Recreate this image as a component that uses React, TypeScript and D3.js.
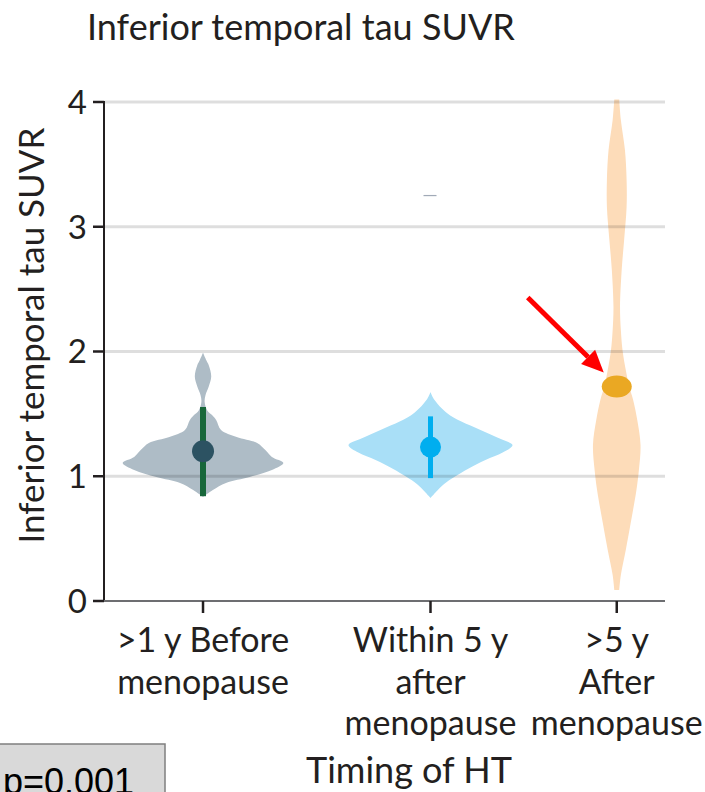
import React from "react";
import * as d3 from "d3";

// Groups (timing of hormone therapy)
const categories = ["before", "within5", "after5"];
const categoryLabels = [
  [">1 y Before", "menopause"],
  ["Within 5 y", "after", "menopause"],
  [">5 y", "After", "menopause"],
];

// Mean and 95% interval of inferior temporal tau SUVR per group
const means = [1.2, 1.234, 1.72];
const ciLow = [0.84, 0.985, null];
const ciHigh = [1.555, 1.48, null];

// Kernel density profiles: [SUVR value, relative density]
const densityBefore: [number, number][] = [
  [1.99, 0], [1.93, 0.04], [1.89, 0.07], [1.8, 0.1], [1.72, 0.07], [1.65, 0.03],
  [1.595, 0.02], [1.53, 0.05], [1.49, 0.11], [1.451, 0.16], [1.371, 0.22],
  [1.315, 0.41], [1.267, 0.66], [1.21, 0.76], [1.154, 0.84], [1.106, 0.98],
  [1.05, 0.84], [0.994, 0.57], [0.946, 0.28], [0.89, 0.12], [0.834, 0],
];
const densityWithin5: [number, number][] = [
  [1.675, 0], [1.62, 0.04], [1.507, 0.2], [1.44, 0.37], [1.371, 0.61],
  [1.3, 0.85], [1.25, 1.0], [1.19, 0.88], [1.13, 0.67], [1.06, 0.46],
  [0.994, 0.29], [0.94, 0.17], [0.89, 0.09], [0.826, 0],
];
const densityAfter5: [number, number][] = [
  [4.02, 0.03], [3.856, 0.05], [3.615, 0.1], [3.375, 0.12], [3.158, 0.12],
  [2.894, 0.09], [2.653, 0.06], [2.357, 0.04], [2.172, 0.05], [2.012, 0.07],
  [1.852, 0.11], [1.723, 0.15], [1.611, 0.2], [1.451, 0.25], [1.25, 0.29],
  [1.05, 0.27], [0.89, 0.24], [0.625, 0.17], [0.409, 0.11], [0.208, 0.05],
  [0.088, 0.03],
];
const densities = [densityBefore, densityWithin5, densityAfter5];
// Stray observation drawn as a short dash
const strayValue = 3.25;

const yTicks = [0, 1, 2, 3, 4];
const pValueText = "p=0.001";

const violinFill = ["#aebcc6", "#a9dff7", "#fddcb9"];
const barColor = ["#17673a", "#00aeef", "#eaa823"];
const dotColor = ["#2c5262", "#00aeef", "#eaa823"];

const W = 705;
const H = 792;
const left = 104;
const right = 665;
const top = 102;
const bottom = 601;
const ink = "#231f20";
const font = "Lato, 'Open Sans', sans-serif";

export default function App() {
  const y = d3.scaleLinear().domain([0, 4]).range([bottom, top]);
  const plotW = right - left;
  const x = d3
    .scaleOrdinal<string, number>()
    .domain(categories)
    .range([left + plotW * 0.1765, left + plotW * 0.582, left + plotW * 0.914]);
  const w = d3.scaleLinear().domain([0, 1]).range([0, 82]);

  const violin = (cx: number) =>
    d3
      .area<[number, number]>()
      .y((d) => y(d[0]))
      .x0((d) => cx - w(d[1]))
      .x1((d) => cx + w(d[1]))
      .curve(d3.curveCatmullRom.alpha(0.5));

  const c3 = x(categories[2]);
  const arrowTip = { x: c3 - 13, y: y(means[2]) - 14 };
  const arrowStart = { x: arrowTip.x - 76, y: arrowTip.y - 75 };
  const ang = Math.atan2(arrowTip.y - arrowStart.y, arrowTip.x - arrowStart.x);
  const headLen = 22;
  const headHalf = 10;
  const bx = arrowTip.x - headLen * Math.cos(ang);
  const by = arrowTip.y - headLen * Math.sin(ang);
  const px = -Math.sin(ang);
  const py = Math.cos(ang);

  return (
    <svg
      width={W}
      height={H}
      style={{ position: "absolute", left: 0, top: 0, background: "#fff" }}
    >
      <rect width={W} height={H} fill="#fff" />
      {/* Title */}
      <text x={87} y={40} fontFamily={font} fontSize={36} fill={ink}>
        Inferior temporal tau SUVR
      </text>

      {/* Violins */}
      {categories.map((c, i) => (
        <path key={c} d={violin(x(c))(densities[i]) || ""} fill={violinFill[i]} />
      ))}

      {/* Gridlines (translucent so they show through violins) */}
      {yTicks.slice(1).map((t) => (
        <line
          key={t}
          x1={left}
          x2={right}
          y1={y(t)}
          y2={y(t)}
          stroke="rgba(0,0,0,0.13)"
          strokeWidth={3}
        />
      ))}

      {/* Stray point */}
      <line
        x1={x(categories[1]) - 7}
        x2={x(categories[1]) + 6}
        y1={y(strayValue)}
        y2={y(strayValue)}
        stroke="#8a96a6"
        strokeWidth={1.2}
        opacity={0.8}
      />

      {/* Interval bars and means */}
      {categories.map((c, i) =>
        ciLow[i] != null ? (
          <line
            key={c + "ci"}
            x1={x(c)}
            x2={x(c)}
            y1={y(ciLow[i] as number)}
            y2={y(ciHigh[i] as number)}
            stroke={barColor[i]}
            strokeWidth={i === 0 ? 6 : 5}
          />
        ) : null
      )}
      {categories.map((c, i) =>
        i < 2 ? (
          <circle key={c + "m"} cx={x(c)} cy={y(means[i])} r={i === 0 ? 11 : 10.5} fill={dotColor[i]} />
        ) : (
          <ellipse key={c + "m"} cx={x(c)} cy={y(means[i])} rx={15} ry={11} fill={dotColor[i]} />
        )
      )}

      {/* Y axis */}
      <line x1={left} x2={left} y1={top - 1} y2={bottom} stroke={ink} strokeWidth={2} />
      {yTicks.map((t) => (
        <g key={t}>
          <line x1={left - 11} x2={left} y1={y(t)} y2={y(t)} stroke={ink} strokeWidth={2.5} />
          <text
            x={87}
            y={y(t)}
            dy="0.36em"
            textAnchor="end"
            fontFamily={font}
            fontSize={33}
            fill={ink}
          >
            {t}
          </text>
        </g>
      ))}
      <text
        transform={`translate(44, ${(top + bottom) / 2 - 16}) rotate(-90)`}
        textAnchor="middle"
        fontFamily={font}
        fontSize={35}
        fill={ink}
      >
        Inferior temporal tau SUVR
      </text>

      {/* X axis */}
      <line x1={left} x2={right} y1={bottom} y2={bottom} stroke="#6d6e71" strokeWidth={2} />
      {categories.map((c, i) => (
        <g key={c + "x"}>
          <line x1={x(c)} x2={x(c)} y1={bottom} y2={bottom + 12} stroke={ink} strokeWidth={2.5} />
          {categoryLabels[i].map((ln, j) => (
            <text
              key={j}
              x={x(c)}
              y={652 + j * 41.5}
              textAnchor="middle"
              fontFamily={font}
              fontSize={34}
              fill={ink}
            >
              {ln}
            </text>
          ))}
        </g>
      ))}
      <text x={409} y={783} textAnchor="middle" fontFamily={font} fontSize={36} fill={ink}>
        Timing of HT
      </text>

      {/* Annotation arrow */}
      <line
        x1={arrowStart.x}
        y1={arrowStart.y}
        x2={bx}
        y2={by}
        stroke="#ff0000"
        strokeWidth={5}
      />
      <path
        d={`M${arrowTip.x},${arrowTip.y} L${bx + px * headHalf},${by + py * headHalf} L${bx - px * headHalf},${by - py * headHalf} Z`}
        fill="#ff0000"
      />

      {/* p-value box */}
      <rect x={-2} y={744} width={167} height={60} fill="#d9d9d9" stroke="#7f7f7f" strokeWidth={1.5} />
      <text x={3} y={794} fontFamily="'Liberation Sans', Arial, sans-serif" fontSize={36} fill="#000">
        {pValueText}
      </text>
    </svg>
  );
}
